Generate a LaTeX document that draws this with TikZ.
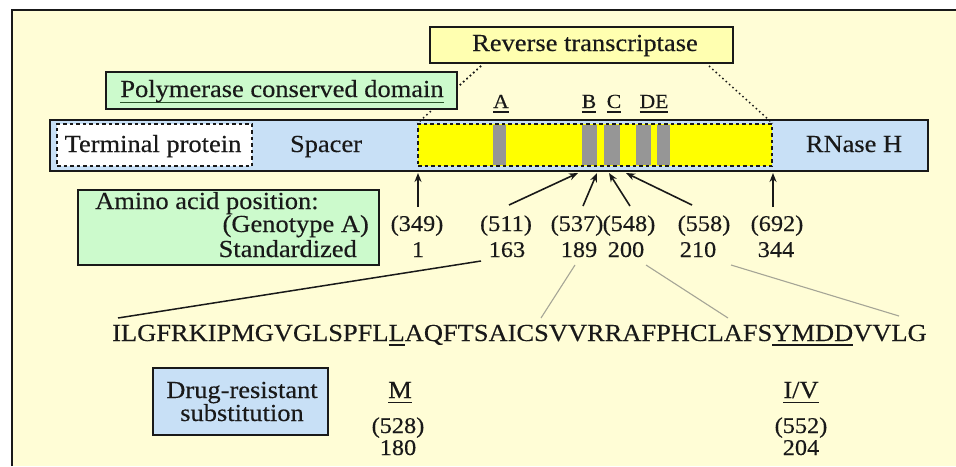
\documentclass[tikz,border=0pt]{standalone}
\usepackage{fontspec}
\setmainfont{Liberation Serif}[FakeStretch=1.08,FakeBold=0.3]
\usetikzlibrary{arrows.meta,calc}
\definecolor{bgyellow}{RGB}{255,253,214}
\definecolor{boxgreen}{RGB}{204,250,204}
\definecolor{barblue}{RGB}{200,224,246}
\definecolor{rtyellow}{RGB}{255,255,176}
\definecolor{segyellow}{RGB}{255,255,0}
\definecolor{motifgray}{RGB}{150,150,150}
\definecolor{ink}{RGB}{25,25,25}
\definecolor{ulgreen}{RGB}{40,85,40}
\definecolor{thingray}{RGB}{165,165,150}
\newcommand{\fsmain}{\fontsize{24.5}{26}\selectfont}
\newcommand{\fsnum}{\fontsize{22.5}{24}\selectfont}
\newcommand{\fsmotif}{\fontsize{20}{22}\selectfont}
\newsavebox\ulbox
\newcommand{\ulin}[3][-4.5pt]{\sbox\ulbox{#3}{\color{#2}\rlap{\rule[#1]{\wd\ulbox}{1.3pt}}}\usebox\ulbox}
\begin{document}
\begin{tikzpicture}[x=1pt,y=-1pt,
  txt/.style={inner sep=0pt, anchor=base, text=ink, font=\fsmain},
  num/.style={inner sep=0pt, anchor=base, text=ink, font=\fsnum},
  motif/.style={inner sep=0pt, anchor=base, text=ink, font=\fsmotif},
  boxline/.style={draw=ink, line width=1.5pt, inner sep=0pt, text=ink, font=\fsmain},
  dashedge/.style={draw=ink, line width=1.3pt, dash pattern=on 3.5pt off 3pt},
  dotline/.style={draw=ink, line width=1.5pt, dash pattern=on 1.5pt off 3pt},
  arr/.style={-{Stealth[length=9pt,width=7pt]}, line width=1.6pt, draw=ink},
  seqline/.style={draw=ink, line width=1.5pt},
  greyline/.style={draw=thingray, line width=1.1pt}
]
\useasboundingbox (0,0) rectangle (956,466);
\fill[white] (0,0) rectangle (956,466);
\fill[bgyellow] (12,10) rectangle (956,466);
\draw[line width=2pt, ink] (12,466) -- (12,10) -- (956,10);

% main protein bar
\node[boxline, fill=barblue, minimum width=878pt, minimum height=51pt] (bar) at (489,145.5) {};
\node[dashedge, fill=white, minimum width=195pt, minimum height=42pt, inner sep=0pt, text=ink, font=\fsmain] (tp) at (154.5,145) {};
\node[txt] (tptext) at (153,152) {Terminal protein};
\node[dashedge, fill=segyellow, minimum width=354pt, minimum height=42pt, inner sep=0pt] (rtseg) at (595,145) {};
\fill[motifgray] (493,124.7) rectangle (506,165.3);
\fill[motifgray] (582,124.7) rectangle (597,165.3);
\fill[motifgray] (604,124.7) rectangle (620,165.3);
\fill[motifgray] (636,124.7) rectangle (651,165.3);
\fill[motifgray] (657,124.7) rectangle (670,165.3);
\node[txt] (spacer) at (326,152) {Spacer};
\node[txt] (rnase) at (854,152) {RNase H};

% motif labels
\node[motif] (mA) at (501,108) {\ulin{ink}{A}};
\node[motif] (mB) at (589,108) {\ulin{ink}{B}};
\node[motif] (mC) at (614,108) {\ulin{ink}{C}};
\node[motif] (mDE) at (654,108) {\ulin{ink}{DE}};

% reverse transcriptase box
\node[boxline, fill=rtyellow, minimum width=303pt, minimum height=36pt] (rt) at (581.5,45) {};
\node[txt] (rttext) at (585,51) {Reverse transcriptase};
\coordinate (rtl) at (481,66);
\coordinate (rtr) at (709,66);
\draw[dotline] (rtl) -- (rtseg.north west);
\draw[dotline] (rtr) -- (rtseg.north east);

% polymerase conserved domain box
\node[boxline, fill=boxgreen, minimum width=351pt, minimum height=37pt] (pol) at (281.5,90.5) {};
\node[txt] (poltext) at (282,97) {\ulin[-6pt]{ulgreen}{Polymerase conserved domain}};
\draw[dotline] (rtl) -- ($(rtl)!0.42!(rtseg.north west)$);

% amino acid position box
\node[boxline, fill=boxgreen, minimum width=301pt, minimum height=75pt] (aa) at (228.5,227.5) {};
\node[txt, anchor=base west] (aa1) at (95,209) {Amino acid position:};
\node[txt, anchor=base east] (aa2) at (369,232) {(Genotype A)};
\node[txt, anchor=base east] (aa3) at (357,257) {Standardized};

% position numbers
\node[num] (p349) at (417,231) {(349)};
\node[num] (p511) at (506,231) {(511)};
\node[num] (p537) at (577,231) {(537)};
\node[num] (p548) at (629,231) {(548)};
\node[num] (p558) at (704,231) {(558)};
\node[num] (p692) at (777,231) {(692)};
\node[num] (s1) at (418,257) {1};
\node[num] (s163) at (507,257) {163};
\node[num] (s189) at (579,257) {189};
\node[num] (s200) at (626,257) {200};
\node[num] (s210) at (698,257) {210};
\node[num] (s344) at (776,257) {344};

% arrows to the bar
\coordinate (t349) at (418,207); \coordinate (h349) at (418,173);
\coordinate (t511) at (509,205); \coordinate (h511) at (578,173);
\coordinate (t537) at (583,206); \coordinate (h537) at (597,173);
\coordinate (t548) at (630,206); \coordinate (h548) at (609,173);
\coordinate (t558) at (692,205); \coordinate (h558) at (626,173);
\coordinate (t692) at (773,207); \coordinate (h692) at (773,173);
\draw[arr] (t349) -- (h349);
\draw[arr] (t511) -- (h511);
\draw[arr] (t537) -- (h537);
\draw[arr] (t548) -- (h548);
\draw[arr] (t558) -- (h558);
\draw[arr] (t692) -- (h692);

% sequence
\node[txt, anchor=base west] (seq) at (112,341) {ILGFRKIPMGVGLSPFL\ulin{ink}{L}AQFTSAICSVVRRAFPHCLAFS\ulin{ink}{YMDD}VVLG};
\coordinate (q163) at (481,261); \coordinate (e163) at (118,318);
\coordinate (q189) at (575,265); \coordinate (e189) at (541,318);
\coordinate (q200) at (646,265); \coordinate (e200) at (728,318);
\coordinate (q210) at (731,265); \coordinate (e210) at (899,316);
\draw[seqline] (q163) -- (e163);
\draw[greyline] (q189) -- (e189);
\draw[greyline] (q200) -- (e200);
\draw[greyline] (q210) -- (e210);

% drug resistant substitution
\node[boxline, fill=barblue, minimum width=175pt, minimum height=67pt] (drug) at (240.5,401.5) {};
\node[txt] (drug1) at (242,398) {Drug-resistant};
\node[txt] (drug2) at (242,421) {substitution};
\node[num, font=\fsmain] (subM) at (400,398) {\ulin[-5pt]{ink}{M}};
\node[num] (n528) at (398,433) {(528)};
\node[num] (n180) at (398,455) {180};
\node[num, font=\fsmain] (subIV) at (801,398) {\ulin[-5pt]{ink}{I/V}};
\node[num] (n552) at (801,433) {(552)};
\node[num] (n204) at (801,455) {204};
\end{tikzpicture}
\end{document}
